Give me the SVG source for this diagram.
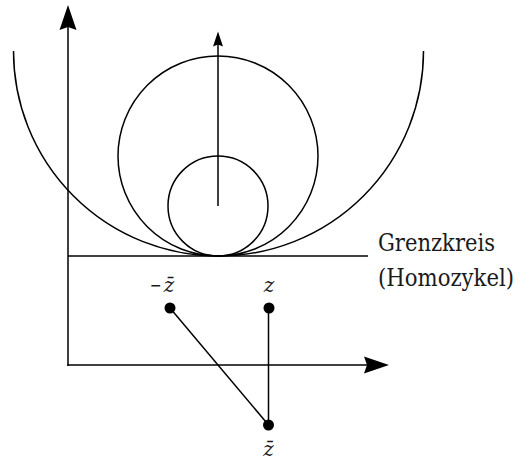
<svg xmlns="http://www.w3.org/2000/svg" width="518" height="460" viewBox="0 0 518 460">
  <style>
    .ln { stroke: #000; stroke-width: 1.5; fill: none; }
    .dot { fill: #000; }
    .lbl { font-family: 'DejaVu Serif', 'Liberation Serif', serif; font-stretch: condensed; font-size: 24px; fill: #1a1a1a; }
    .var { font-family: 'DejaVu Serif', 'Liberation Serif', serif; font-size: 20px; font-style: italic; fill: #1a1a1a; }
  </style>
  <defs>
    <marker id="bigArrow" markerUnits="userSpaceOnUse" viewBox="-26 -10 27 20" markerWidth="27" markerHeight="20" refX="-4" refY="0" orient="auto">
      <path d="M0,0 L-25,-8.5 L-22,0 L-25,8.5 Z" fill="#000"/>
    </marker>
    <marker id="smallArrow" markerUnits="userSpaceOnUse" viewBox="-16 -6 17 12" markerWidth="17" markerHeight="12" refX="-3" refY="0" orient="auto">
      <path d="M0,0 L-15,-5 L-13,0 L-15,5 Z" fill="#000"/>
    </marker>
  </defs>

  <g id="circles">
    <path id="outer-arc" class="ln" d="M13.5,51 A205,205 0 0 0 423.5,51"/>
    <circle id="big-circle" class="ln" cx="218" cy="156" r="100"/>
    <circle id="small-circle" class="ln" cx="218" cy="206" r="50"/>
  </g>

  <g id="connectors">
    <line id="y-axis" class="ln" x1="68" y1="366" x2="68" y2="9" marker-end="url(#bigArrow)"/>
    <line id="x-axis" class="ln" x1="67.3" y1="365" x2="385" y2="365" marker-end="url(#bigArrow)"/>
    <line id="center-arrow" class="ln" x1="218" y1="206" x2="218" y2="34.5" marker-end="url(#smallArrow)"/>
    <line id="grenzkreis-line" class="ln" x1="68" y1="256" x2="368" y2="256"/>
    <line id="link-mzbar-zbar" class="ln" x1="170" y1="308" x2="268.5" y2="425"/>
    <line id="link-z-zbar" class="ln" x1="268.5" y1="308" x2="268.5" y2="425"/>
  </g>

  <g id="label-grenzkreis">
    <text class="lbl" x="378" y="251" textLength="117" lengthAdjust="spacingAndGlyphs">Grenzkreis</text>
    <text class="lbl" x="378" y="286" textLength="136" lengthAdjust="spacingAndGlyphs">(Homozykel)</text>
  </g>

  <g id="node-minus-zbar">
    <circle class="dot" cx="170" cy="308" r="5.5"/>
    <text class="var" x="150" y="292"><tspan font-style="normal" font-weight="bold" font-size="14" dy="-2">−</tspan><tspan dx="2" dy="2">z̄</tspan></text>
  </g>

  <g id="node-z">
    <circle class="dot" cx="269" cy="308" r="5.5"/>
    <text class="var" x="269" y="292" text-anchor="middle">z</text>
  </g>

  <g id="node-zbar">
    <circle class="dot" cx="268.5" cy="425" r="5.5"/>
    <text class="var" x="268.5" y="456" text-anchor="middle">z̄</text>
  </g>
</svg>
